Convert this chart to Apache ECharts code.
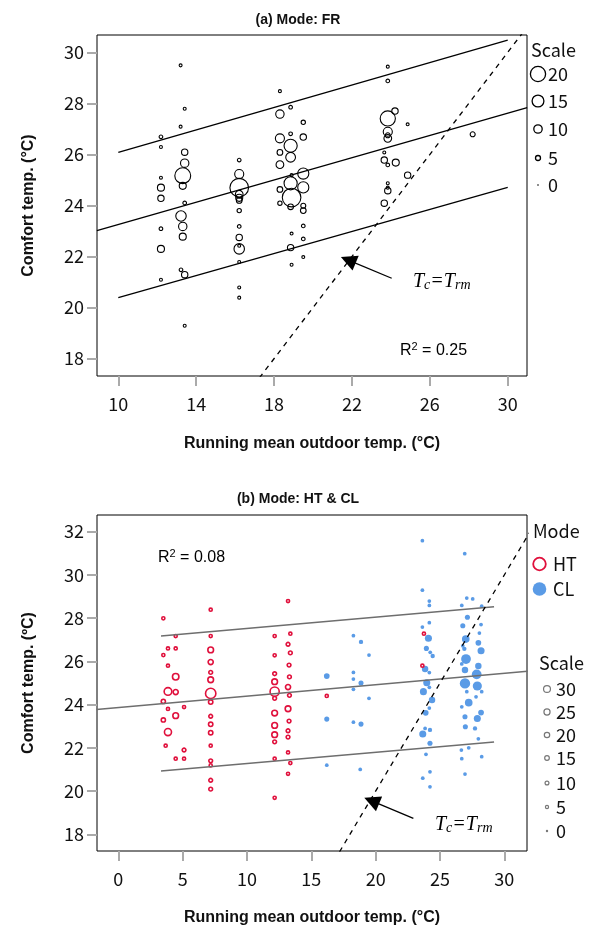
<!DOCTYPE html>
<html>
<head>
<meta charset="utf-8">
<script src="https://cdn.jsdelivr.net/npm/echarts@6/dist/echarts.min.js"></script>
<style>
html, body { margin: 0; padding: 0; background: #fff; }
#chart { width: 596px; height: 930px; }
</style>
</head>
<body>
<div id="chart"></div>
<script>
// tick labels
var frXTicks = [10, 14, 18, 22, 26, 30];
var frYTicks = [18, 20, 22, 24, 26, 28, 30];
var modeXTicks = [0, 5, 10, 15, 20, 25, 30];
var modeYTicks = [18, 20, 22, 24, 26, 28, 30, 32];

// (a) FR : running mean temp, comfort temp, count
var frX = [12.19, 12.19, 12.19, 12.19, 12.19, 12.19, 12.19, 12.19,
	13.20, 13.41, 13.20, 13.41, 13.41, 13.31, 13.31, 13.41, 13.22, 13.31, 13.31, 13.22, 13.41, 13.41,
	16.21, 16.21, 16.21, 16.21, 16.21, 16.21, 16.21, 16.21, 16.21, 16.21, 16.21, 16.21, 16.21, 16.21,
	18.30, 18.30, 18.30, 18.30, 18.30, 18.30, 18.30,
	18.85, 18.85, 18.85, 18.85, 18.90, 18.85, 18.90, 18.85, 18.90, 18.85, 18.90,
	19.50, 19.50, 19.50, 19.50, 19.50, 19.50, 19.50, 19.50, 19.50,
	23.84, 23.84, 24.21, 23.84, 23.84, 23.84, 23.84, 23.66, 23.66, 23.84, 24.25, 23.84, 23.84, 23.84, 23.66,
	24.86, 24.86, 28.20];
var frY = [26.69, 26.29, 25.09, 24.70, 24.28, 23.09, 22.30, 21.09,
	29.49, 27.79, 27.09, 26.09, 25.66, 25.17, 24.77, 24.10, 23.59, 23.18, 22.78, 21.48, 21.29, 19.29,
	25.78, 25.23, 24.70, 24.44, 24.30, 24.20, 23.80, 23.18, 22.75, 22.30, 22.42, 21.79, 20.79, 20.39,
	28.48, 27.58, 26.63, 26.08, 25.60, 24.63, 24.09,
	27.85, 26.81, 26.34, 25.89, 25.19, 24.87, 24.31, 23.95, 22.90, 22.35, 21.68,
	27.26, 26.68, 25.25, 24.71, 23.99, 23.80, 23.20, 22.69, 21.98,
	29.44, 28.88, 27.70, 27.41, 26.89, 26.75, 26.63, 26.08, 25.78, 25.59, 25.68, 24.87, 24.70, 24.58, 24.09,
	27.18, 25.19, 26.79];
var frCount = [3, 2, 2, 8, 7, 3, 8, 2,
	2, 2, 2, 7, 10, 21, 8, 3, 13, 10, 8, 3, 7, 2,
	3, 11, 25, 9, 8, 6, 4, 3, 7, 13, 2, 2, 2, 2,
	2, 10, 11, 6, 9, 6, 4,
	3, 3, 17, 12, 2, 17, 25, 6, 2, 7, 2,
	4, 7, 14, 14, 5, 6, 3, 3, 2,
	2, 3, 7, 20, 11, 5, 9, 2, 7, 3, 8, 2, 2, 7, 7,
	2, 7, 5];

// (b) HT
var htX = [3.50, 3.50, 3.50, 3.50, 3.68,
	3.86, 3.86, 3.86, 3.86, 3.86,
	4.46, 4.46, 4.46, 4.46, 4.46, 4.46,
	5.11, 5.11, 5.11,
	7.18, 7.18, 7.18, 7.18, 7.18, 7.18, 7.18, 7.18, 7.18, 7.18, 7.18, 7.18, 7.18, 7.18, 7.18, 7.18,
	12.15, 12.15, 12.15, 12.15, 12.15, 12.15, 12.15, 12.15, 12.15, 12.15, 12.15, 12.15,
	13.19, 13.37, 13.19, 13.37, 13.27, 13.30, 13.19, 13.30, 13.19, 13.27, 13.19, 13.19, 13.19, 13.37, 13.19,
	16.20, 23.75, 23.63];
var htY = [27.99, 26.29, 24.15, 23.29, 22.10,
	26.60, 25.80, 24.61, 23.80, 22.73,
	27.17, 26.60, 25.29, 24.58, 23.49, 21.50,
	23.89, 21.90, 21.50,
	28.39, 27.17, 26.53, 25.97, 25.49, 25.15, 24.52, 24.12, 23.46, 23.09, 22.70, 22.10, 21.40, 21.19, 20.50, 20.09,
	27.17, 26.28, 25.43, 25.06, 24.60, 24.29, 23.61, 23.04, 22.61, 22.28, 21.50, 19.69,
	28.79, 27.28, 26.79, 26.39, 25.83, 25.28, 24.81, 24.43, 23.81, 23.24, 22.79, 22.50, 21.79, 21.30, 20.80,
	24.40, 27.28, 25.80];
var htCount = [5, 5, 12, 12, 5,
	5, 5, 35, 5, 31,
	5, 5, 27, 18, 22, 5,
	5, 9, 5,
	5, 5, 22, 18, 9, 22, 53, 13, 9, 13, 13, 5, 9, 5, 9, 9,
	5, 5, 9, 22, 45, 9, 22, 22, 22, 9, 5, 5,
	5, 5, 9, 9, 9, 9, 18, 9, 22, 9, 9, 9, 5, 5, 5,
	5, 5, 5];

// (b) CL
var clX = [16.20, 16.20, 16.20,
	18.27, 18.86, 19.48, 18.27, 18.27, 18.86, 18.27, 19.48, 18.27, 18.86, 18.80,
	23.63, 23.63, 24.17, 24.17, 24.17, 23.63, 24.10, 23.94, 24.24, 24.43, 23.84, 24.17, 23.97, 24.17, 23.71, 24.38, 24.17, 23.89, 23.84, 24.22, 23.66, 24.22, 23.91, 24.22, 23.66, 24.22,
	26.92, 27.08, 27.54, 26.69, 28.24, 27.13, 26.77, 28.19, 28.06, 27.00, 27.98, 26.77, 26.89, 28.19, 27.02, 26.69, 27.98, 26.94, 27.85, 26.94, 27.90, 27.08, 28.24, 27.80, 27.23, 26.69, 28.19, 26.94, 27.90, 26.97, 27.72, 27.98, 26.66, 27.23, 28.24, 26.69, 26.94];
var clY = [25.32, 23.33, 21.20,
	27.19, 26.90, 26.29, 25.49, 25.18, 25.00, 24.71, 24.29, 23.19, 23.10, 21.00,
	31.58, 29.29, 28.79, 28.59, 27.79, 27.59, 27.07, 26.60, 26.42, 26.25, 25.65, 25.48, 25.01, 24.80, 24.60, 24.21, 23.84, 23.62, 22.90, 22.83, 22.64, 22.21, 21.70, 20.89, 20.60, 20.20,
	30.98, 28.93, 28.89, 28.59, 28.55, 28.04, 27.65, 27.70, 27.31, 27.03, 26.86, 26.72, 26.58, 26.49, 26.11, 25.88, 25.79, 25.60, 25.40, 24.98, 24.86, 24.60, 24.60, 24.36, 24.09, 23.90, 23.63, 23.44, 23.36, 22.98, 22.90, 22.42, 21.90, 22.00, 21.59, 21.50, 20.79];
var clCount = [22, 18, 9,
	9, 13, 9, 9, 9, 18, 9, 9, 9, 18, 9,
	9, 9, 9, 9, 9, 9, 31, 18, 9, 13, 27, 9, 31, 9, 31, 27, 9, 22, 9, 13, 31, 18, 9, 9, 9, 9,
	9, 9, 9, 9, 9, 18, 18, 9, 9, 35, 22, 9, 13, 31, 49, 9, 27, 27, 49, 53, 45, 9, 9, 9, 35, 9, 22, 18, 31, 18, 13, 9, 9, 9, 9, 9, 9];

// fitted lines (start / end)
var frMid = [[8.9, 23.02], [31.0, 27.83]];
var frUpper = [[10, 26.08], [30, 30.48]];
var frLower = [[10, 20.39], [30, 24.71]];
var modeMid = [[-1.7, 23.78], [31.8, 25.54]];
var modeUpper = [[3.32, 27.17], [29.2, 28.53]];
var modeLower = [[3.32, 20.93], [29.2, 22.27]];
var equalLine = [[16, 16], [33, 33]];
// arrows to Tc = Trm (tail, head)
var frArrow = [[24.04, 21.15], [21.81, 21.86]];
var modeArrow = [[22.93, 18.74], [19.69, 19.55]];

var frScale = [20, 15, 10, 5, 0];
var modeScale = [30, 25, 20, 15, 10, 5, 0];

var RED = '#e0103c';
var BLUE = '#5a9be6';
var TXT = '#111';
var labelFont = 'Noto Sans CJK JP';
var boldFont = 'Liberation Sans';

function frSize(n) {
	return 1.6 + 0.68 * n;
}
function modeSize(n) {
	return 2.4 + 0.15 * n;
}
function zip(xs, ys, ns) {
	return xs.map(function (x, i) { return [x, ys[i], ns[i]]; });
}

/*
 * axis helpers
 */
function xAxisOf(grid, min, max, ticks, nameGap) {
	return {
		type: 'value', gridIndex: grid, min: min, max: max,
		name: 'Running mean outdoor temp. (°C)',
		nameLocation: 'middle', nameGap: nameGap,
		nameTextStyle: { fontFamily: boldFont, fontWeight: 'bold', fontSize: 16, color: TXT },
		axisLine: { show: false, onZero: false },
		axisTick: { show: true, customValues: ticks, length: 10, lineStyle: { color: '#aaa', width: 2 } },
		axisLabel: { customValues: ticks, fontFamily: labelFont, fontSize: 18, color: TXT, margin: 19 },
		splitLine: { show: false }
	};
}
function yAxisOf(grid, min, max, ticks, name) {
	return {
		type: 'value', gridIndex: grid, min: min, max: max,
		name: name,
		nameLocation: 'middle', nameGap: 60,
		nameTextStyle: { fontFamily: boldFont, fontWeight: 'bold', fontSize: 16, color: TXT },
		axisLine: { show: false, onZero: false },
		axisTick: { show: true, customValues: ticks, length: 10, lineStyle: { color: '#aaa', width: 2 } },
		axisLabel: { customValues: ticks, fontFamily: labelFont, fontSize: 18, color: TXT, margin: 13 },
		splitLine: { show: false }
	};
}
function fitLine(data, grid, color, width, dashed) {
	return {
		type: 'line', xAxisIndex: grid, yAxisIndex: grid, data: data,
		symbol: 'none', silent: true, clip: true,
		lineStyle: { color: color, width: width, type: dashed ? [5, 5] : 'solid' },
		z: 3
	};
}
function arrowOf(coords, grid) {
	return {
		type: 'lines', coordinateSystem: 'cartesian2d', xAxisIndex: grid, yAxisIndex: grid,
		silent: true,
		symbol: ['none', 'triangle'], symbolSize: [12, 16],
		lineStyle: { color: '#000', width: 1.3, opacity: 1 },
		itemStyle: { color: '#000' },
		data: [{ coords: coords }],
		z: 4
	};
}

/*
 * legends and notes
 */
function legendGraphic() {
	var g = [];
	var txt = function (x, y, s, size) {
		return { type: 'text', x: x, y: y, style: { text: s, fontFamily: labelFont, fontSize: size || 18, fill: TXT, verticalAlign: 'middle' } };
	};
	g.push(txt(531, 50, 'Scale'));
	var frRows = [74, 101, 129, 158, 185];
	frScale.forEach(function (v, i) {
		var r = frSize(v) / 2;
		g.push({ type: 'circle', shape: { cx: 538, cy: frRows[i], r: r },
			style: v === 0 ? { fill: '#000' } : { fill: 'none', stroke: '#000', lineWidth: 1.3 } });
		g.push(txt(548, frRows[i], String(v)));
	});

	g.push(txt(533, 531, 'Mode'));
	g.push({ type: 'circle', shape: { cx: 539.5, cy: 564, r: 6.3 }, style: { fill: 'none', stroke: RED, lineWidth: 1.8 } });
	g.push(txt(553, 564, 'HT'));
	g.push({ type: 'circle', shape: { cx: 539.5, cy: 589, r: 6.8 }, style: { fill: BLUE } });
	g.push(txt(553, 589, 'CL'));

	g.push(txt(539, 663, 'Scale'));
	var modeRows = [689, 712, 735, 758, 783, 807, 831];
	modeScale.forEach(function (v, i) {
		g.push({ type: 'circle', shape: { cx: 547, cy: modeRows[i], r: modeSize(v) / 2 },
			style: v === 0 ? { fill: '#777' } : { fill: 'none', stroke: '#777', lineWidth: 1.2 } });
		g.push(txt(556, modeRows[i], String(v)));
	});

	var rich = {
		r: { fontFamily: boldFont, fontSize: 16, color: TXT, verticalAlign: 'bottom', lineHeight: 18 },
		sup: { fontFamily: boldFont, fontSize: 11, color: TXT, verticalAlign: 'top', lineHeight: 18 },
		t: { fontFamily: 'Liberation Serif', fontStyle: 'italic', fontSize: 20, color: TXT, verticalAlign: 'bottom', lineHeight: 22 },
		s: { fontFamily: 'Liberation Serif', fontStyle: 'italic', fontSize: 14, color: TXT, verticalAlign: 'bottom', lineHeight: 11 }
	};
	var note = function (x, y, s) {
		return { type: 'text', x: x, y: y, style: { text: s, rich: rich, verticalAlign: 'middle' } };
	};
	g.push(note(400, 350, '{r|R}{sup|2}{r| = 0.25}'));
	g.push(note(158, 557, '{r|R}{sup|2}{r| = 0.08}'));
	g.push(note(413, 281, '{t|T}{s|c}{t|=T}{s|rm}'));
	g.push(note(435, 824, '{t|T}{s|c}{t|=T}{s|rm}'));
	return g;
}

/*
 * build chart
 */
function initModeCharts() {
	var chart = echarts.init(document.getElementById('chart'), null, { renderer: 'canvas' });
	var option = {
		animation: false,
		backgroundColor: '#fff',
		title: [
			{ text: '(a) Mode: FR', left: 'center', top: 8, textStyle: { fontFamily: boldFont, fontWeight: 'bold', fontSize: 14, color: TXT } },
			{ text: '(b) Mode: HT & CL', left: 'center', top: 487, textStyle: { fontFamily: boldFont, fontWeight: 'bold', fontSize: 14, color: TXT } }
		],
		grid: [
			{ left: 97, top: 35, width: 430, height: 341, show: true, borderColor: '#000', borderWidth: 1 },
			{ left: 97, top: 515, width: 430, height: 336, show: true, borderColor: '#000', borderWidth: 1 }
		],
		xAxis: [
			xAxisOf(0, 8.906, 30.99, frXTicks, 60),
			xAxisOf(1, -1.655, 31.76, modeXTicks, 59)
		],
		yAxis: [
			yAxisOf(0, 17.32, 30.68, frYTicks, 'Comfort temp. (°C)'),
			yAxisOf(1, 17.23, 32.77, modeYTicks, 'Comfort temp. (ºC)')
		],
		series: [
			{
				name: 'FR', type: 'scatter', xAxisIndex: 0, yAxisIndex: 0,
				data: zip(frX, frY, frCount),
				symbolSize: function (v) { return frSize(v[2]); },
				itemStyle: { color: 'transparent', borderColor: '#000', borderWidth: 1.1, opacity: 1 }
			},
			fitLine(frUpper, 0, '#000', 1.3),
			fitLine(frMid, 0, '#000', 1.3),
			fitLine(frLower, 0, '#000', 1.3),
			fitLine(equalLine, 0, '#000', 1.3, true),
			arrowOf(frArrow, 0),
			{
				name: 'CL', type: 'scatter', xAxisIndex: 1, yAxisIndex: 1,
				data: zip(clX, clY, clCount),
				symbolSize: function (v) { return modeSize(v[2]); },
				itemStyle: { color: BLUE, opacity: 1 }
			},
			{
				name: 'HT', type: 'scatter', xAxisIndex: 1, yAxisIndex: 1,
				data: zip(htX, htY, htCount),
				symbolSize: function (v) { return modeSize(v[2]); },
				itemStyle: { color: 'transparent', borderColor: RED, borderWidth: 1.6, opacity: 1 }
			},
			fitLine(modeUpper, 1, '#6e6e6e', 1.5),
			fitLine(modeMid, 1, '#6e6e6e', 1.5),
			fitLine(modeLower, 1, '#6e6e6e', 1.5),
			fitLine(equalLine, 1, '#000', 1.3, true),
			arrowOf(modeArrow, 1)
		],
		graphic: legendGraphic()
	};
	chart.setOption(option);
}
initModeCharts();
</script>
</body>
</html>
